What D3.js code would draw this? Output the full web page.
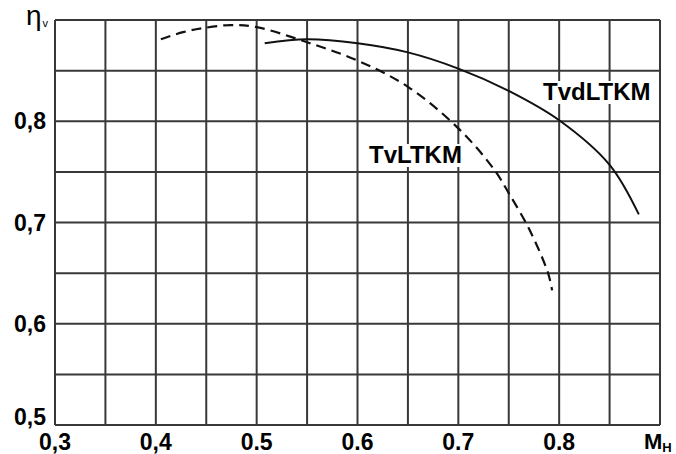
<!DOCTYPE html>
<html>
<head>
<meta charset="utf-8">
<script src="https://cdn.jsdelivr.net/npm/d3@7"></script>
<style>
  html, body { margin: 0; padding: 0; background: #fff; }
  svg { display: block; }
</style>
</head>
<body>
<svg id="chart" width="676" height="454"></svg>
<script>
// ---- data ----
const xTickValues = [0.3, 0.4, 0.5, 0.6, 0.7, 0.8];
const xTickLabels = ["0,3", "0,4", "0.5", "0.6", "0.7", "0.8"];
const yTickValues = [0.5, 0.6, 0.7, 0.8];
const yTickLabels = ["0,5", "0,6", "0,7", "0,8"];
const xGridValues = [0.3, 0.35, 0.4, 0.45, 0.5, 0.55, 0.6, 0.65, 0.7, 0.75, 0.8, 0.85, 0.9];
const yGridValues = [0.5, 0.55, 0.6, 0.65, 0.7, 0.75, 0.8, 0.85, 0.9];

const tvLTKM_M   = [0.405, 0.427, 0.447, 0.474, 0.5, 0.55, 0.6, 0.65, 0.7, 0.735, 0.75, 0.771, 0.789, 0.793];
const tvLTKM_eta = [0.881, 0.888, 0.892, 0.895, 0.893, 0.878, 0.860, 0.834, 0.793, 0.753, 0.729, 0.692, 0.650, 0.633];

const tvdLTKM_M   = [0.508, 0.55, 0.6, 0.65, 0.7, 0.75, 0.8, 0.85, 0.879];
const tvdLTKM_eta = [0.877, 0.881, 0.877, 0.868, 0.852, 0.830, 0.801, 0.757, 0.708];

const seriesNames = ["TvLTKM", "TvdLTKM"];

// ---- drawing ----
const svg = d3.select("#chart");
svg.append("rect").attr("width", 676).attr("height", 454).attr("fill", "#fff");

const x = d3.scaleLinear().domain([0.3, 0.9]).range([55, 660]);
const y = d3.scaleLinear().domain([0.5, 0.9]).range([425, 20]);

const gridColor = "#383838";
const g = svg.append("g");

g.selectAll("line.vx").data(xGridValues).enter().append("line")
  .attr("x1", d => x(d)).attr("x2", d => x(d))
  .attr("y1", y(0.9)).attr("y2", y(0.5))
  .attr("stroke", gridColor).attr("stroke-width", 2);

g.selectAll("line.hy").data(yGridValues).enter().append("line")
  .attr("x1", x(0.3)).attr("x2", x(0.9))
  .attr("y1", d => y(d)).attr("y2", d => y(d))
  .attr("stroke", gridColor).attr("stroke-width", 2);

const font = "'Liberation Sans', Arial, sans-serif";

// x tick labels
svg.selectAll("text.xl").data(xTickValues).enter().append("text")
  .attr("x", d => x(d)).attr("y", 450)
  .attr("text-anchor", "middle")
  .attr("font-family", font).attr("font-weight", "bold").attr("font-size", 23)
  .attr("fill", "#000")
  .text((d, i) => xTickLabels[i]);

// y tick labels
svg.selectAll("text.yl").data(yTickValues).enter().append("text")
  .attr("x", 46).attr("y", d => Math.min(y(d) + 8, 425))
  .attr("text-anchor", "end")
  .attr("font-family", font).attr("font-weight", "bold").attr("font-size", 23)
  .attr("fill", "#000")
  .text((d, i) => yTickLabels[i]);

// axis titles
const mt = svg.append("text").attr("x", 644).attr("y", 449)
  .attr("font-family", font).attr("font-weight", "bold").attr("font-size", 22).attr("fill", "#000");
mt.append("tspan").text("М");
mt.append("tspan").attr("font-size", 13).attr("dy", 3).text("Н");

const et = svg.append("text").attr("x", 26).attr("y", 25)
  .attr("font-family", font).attr("font-size", 28).attr("fill", "#000");
et.append("tspan").text("η");
et.append("tspan").attr("font-size", 11).attr("dy", 2).attr("dx", 1).text("v");

// curves
const line = d3.line().x(d => x(d[0])).y(d => y(d[1])).curve(d3.curveCatmullRom.alpha(0.5));
const dashedData = d3.zip(tvLTKM_M, tvLTKM_eta);
const solidData = d3.zip(tvdLTKM_M, tvdLTKM_eta);

svg.append("path").attr("d", line(dashedData))
  .attr("fill", "none").attr("stroke", "#111").attr("stroke-width", 2.2)
  .attr("stroke-dasharray", "10,6");
svg.append("path").attr("d", line(solidData))
  .attr("fill", "none").attr("stroke", "#111").attr("stroke-width", 2);

// series labels with white boxes
function label(txt, px, py) {
  const grp = svg.append("g");
  const t = grp.append("text").attr("x", px).attr("y", py)
    .attr("font-family", font).attr("font-weight", "bold").attr("font-size", 24)
    .attr("fill", "#000").text(txt);
  const bb = t.node().getBBox();
  grp.insert("rect", "text")
    .attr("x", bb.x - 2).attr("y", bb.y + 3).attr("width", bb.width + 4).attr("height", bb.height - 4)
    .attr("fill", "#fff");
}
label(seriesNames[0], 369, 163);
label(seriesNames[1], 543, 100);
</script>
</body>
</html>
